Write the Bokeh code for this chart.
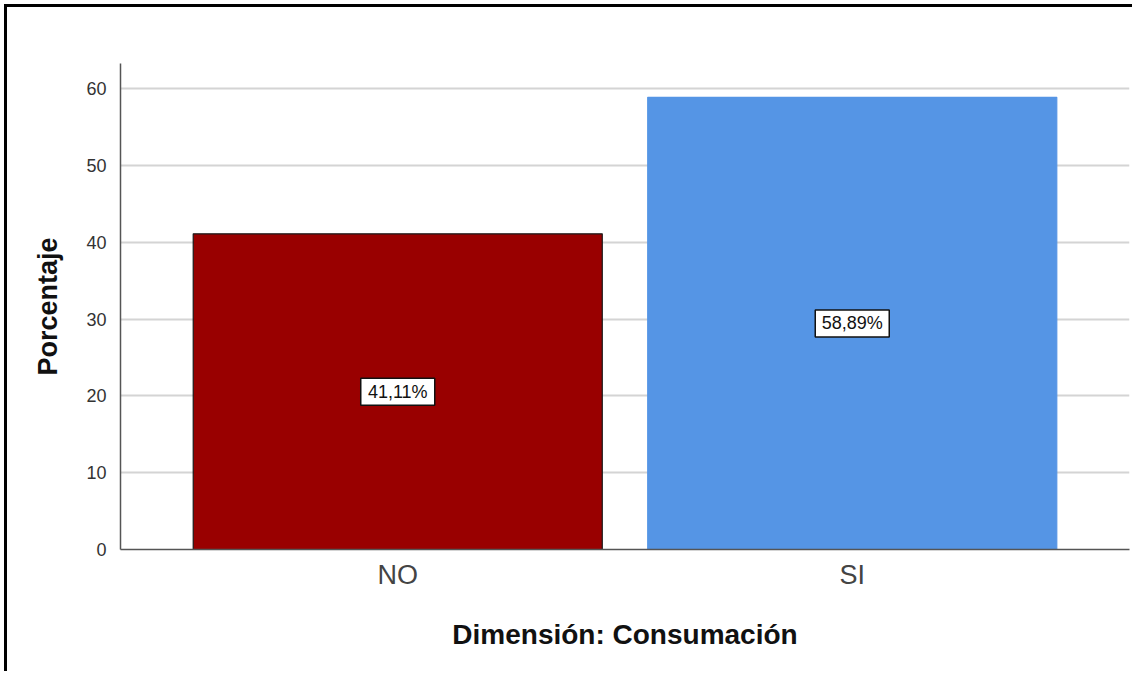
from bokeh.plotting import figure
from bokeh.models import ColumnDataSource, FactorRange, Range1d
from bokeh.core.properties import value
from bokeh.embed import file_html
from bokeh.resources import INLINE

categories = ["NO", "SI"]
percentages = [41.11, 58.89]
labels = ["41,11%", "58,89%"]
colors = ["#990000", "#5595E5"]
outline_colors = ["#1a1a1a", "#5595E5"]
y_ticks = [0, 10, 20, 30, 40, 50, 60]

src = ColumnDataSource(dict(
    cat=categories, val=percentages, lab=labels, col=colors, oc=outline_colors,
    mid=[v / 2 for v in percentages],
))

FONT = "Liberation Sans"

p = figure(
    width=1128, height=667,
    x_range=FactorRange(factors=categories, range_padding=0.11, range_padding_units="absolute"),
    y_range=Range1d(0, 63.3),
    output_backend="svg", toolbar_location=None,
    min_border_left=113, min_border_right=6, min_border_top=56, min_border_bottom=125,
)
p.styles = {"border-top": "3px solid black", "border-left": "3px solid black",
            "margin-left": "4px", "margin-top": "4px"}
p.outline_line_color = None
p.background_fill_color = "white"
p.border_fill_color = "white"

p.vbar(x="cat", top="val", width=0.9, fill_color="col", line_color="oc", line_width=1.2, source=src)

# value boxes
p.rect(x="cat", y="mid", width=74, height=27, width_units="screen", height_units="screen",
       fill_color="white", line_color="#111111", line_width=1.5, source=src)
p.text(x="cat", y="mid", text="lab", text_align="center", text_baseline="middle",
       text_font=value(FONT), text_font_size="18px", text_color="#111111", source=src)

# y axis
p.yaxis.ticker = y_ticks
p.yaxis.axis_label = "Porcentaje"
p.yaxis.axis_label_text_font = FONT
p.yaxis.axis_label_text_font_style = "bold"
p.yaxis.axis_label_text_font_size = "27px"
p.yaxis.axis_label_text_color = "#111111"
p.yaxis.axis_label_standoff = 20
p.yaxis.major_label_text_font = FONT
p.yaxis.major_label_text_font_size = "18px"
p.yaxis.major_label_text_color = "#333333"
p.yaxis.major_label_standoff = 8
p.yaxis.major_tick_line_color = None
p.yaxis.minor_tick_line_color = None
p.yaxis.axis_line_color = "#555555"
p.yaxis.axis_line_width = 1.5

# x axis
p.xaxis.axis_label = "Dimensión: Consumación"
p.xaxis.axis_label_text_font = FONT
p.xaxis.axis_label_text_font_style = "bold"
p.xaxis.axis_label_text_font_size = "28px"
p.xaxis.axis_label_text_color = "#111111"
p.xaxis.axis_label_standoff = 26
p.xaxis.major_label_text_font = FONT
p.xaxis.major_label_text_font_size = "27px"
p.xaxis.major_label_text_color = "#444444"
p.xaxis.major_label_standoff = 4
p.xaxis.major_tick_line_color = None
p.xaxis.axis_line_color = "#555555"
p.xaxis.axis_line_width = 1.5

p.xgrid.grid_line_color = None
p.ygrid.grid_line_color = "#d4d4d4"
p.ygrid.grid_line_width = 2

open("out.html", "w").write(file_html(p, INLINE))
